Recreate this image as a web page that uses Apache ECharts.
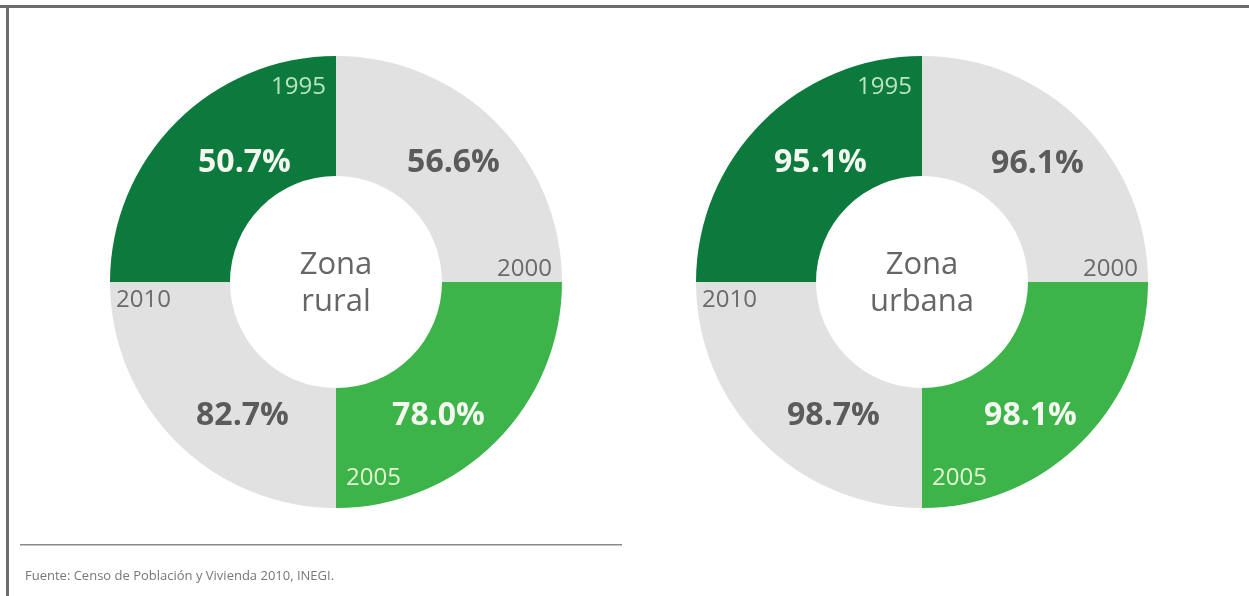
<!DOCTYPE html>
<html>
<head>
<meta charset="utf-8">
<script src="https://cdn.jsdelivr.net/npm/echarts@6/dist/echarts.min.js"></script>
<style>
html,body{margin:0;padding:0;background:#fff;}
#c{width:1249px;height:596px;}
</style>
</head>
<body>
<div id="c"></div>
<script>
// ---- data ----
var years = ['1995', '2000', '2005', '2010'];
var ruralValues = [50.7, 56.6, 78.0, 82.7];
var urbanValues = [95.1, 96.1, 98.1, 98.7];
var zoneTitles = ['Zona\nrural', 'Zona\nurbana'];
var sourceText = 'Fuente: Censo de Población y Vivienda 2010, INEGI.';

// ---- styling ----
var FONT = '"Open Sans", "Noto Sans", sans-serif';
var sliceColors = ['#0c7a3c', '#e1e1e1', '#3cb44a', '#e1e1e1'];
var pctColors = ['#f4f6ef', '#5b5b5b', '#f4f6ef', '#5b5b5b'];
var yearColors = ['#b9e4bd', '#6a6a6a', '#e4f5d2', '#6a6a6a'];
var pctOffsets = {
  rural: [[28, 0], [-2, 0], [-17, 14], [26, 14]],
  urbana: [[18, 0], [-4, 1], [-11, 14], [31, 14]]
};
var yearOffsets = [[82, -75], [69, 107], [-82, 77], [-73, -101]];

function ringSeries(center, values, offs) {
  return {
    type: 'pie',
    center: center,
    radius: [106, 226],
    startAngle: 180,
    clockwise: true,
    silent: true,
    animation: false,
    itemStyle: { borderWidth: 0 },
    labelLine: { show: false },
    data: years.map(function (y, i) {
      return {
        name: y,
        value: 25,
        itemStyle: { color: sliceColors[i] },
        label: {
          show: true,
          position: 'inside',
          formatter: values[i].toFixed(1) + '%',
          color: pctColors[i],
          fontFamily: FONT,
          fontWeight: 'bold',
          fontSize: 32,
          offset: offs[i]
        }
      };
    })
  };
}

function yearSeries(center) {
  return {
    type: 'pie',
    center: center,
    radius: [106, 226],
    startAngle: 180,
    clockwise: true,
    silent: true,
    animation: false,
    itemStyle: { color: 'rgba(0,0,0,0)', borderWidth: 0 },
    labelLine: { show: false },
    data: years.map(function (y, i) {
      return {
        name: y,
        value: 25,
        label: {
          show: true,
          position: 'inside',
          formatter: y,
          color: yearColors[i],
          fontFamily: FONT,
          fontSize: 24,
          offset: yearOffsets[i]
        }
      };
    })
  };
}

var chart = echarts.init(document.getElementById('c'), null, { renderer: 'canvas' });
chart.setOption({
  backgroundColor: '#ffffff',
  series: [
    ringSeries([336, 282], ruralValues, pctOffsets.rural),
    yearSeries([336, 282]),
    ringSeries([922, 282], urbanValues, pctOffsets.urbana),
    yearSeries([922, 282])
  ],
  graphic: [
    { type: 'rect', shape: { x: 0, y: 5, width: 1249, height: 3 }, style: { fill: '#6c6c6c' }, silent: true },
    { type: 'rect', shape: { x: 6, y: 5, width: 3, height: 591 }, style: { fill: '#6c6c6c' }, silent: true },
    { type: 'rect', shape: { x: 20, y: 544, width: 602, height: 1.5 }, style: { fill: '#8a8a8a' }, silent: true },
    { type: 'text', x: 25, y: 576, style: { text: sourceText, font: '13px ' + FONT, fill: '#777777', verticalAlign: 'middle' }, silent: true },
    { type: 'text', x: 336, y: 284, style: { text: zoneTitles[0], font: '500 31px ' + FONT, fill: '#666666', align: 'center', verticalAlign: 'middle', lineHeight: 37 }, silent: true },
    { type: 'text', x: 922, y: 284, style: { text: zoneTitles[1], font: '500 31px ' + FONT, fill: '#666666', align: 'center', verticalAlign: 'middle', lineHeight: 37 }, silent: true }
  ]
});
</script>
</body>
</html>
